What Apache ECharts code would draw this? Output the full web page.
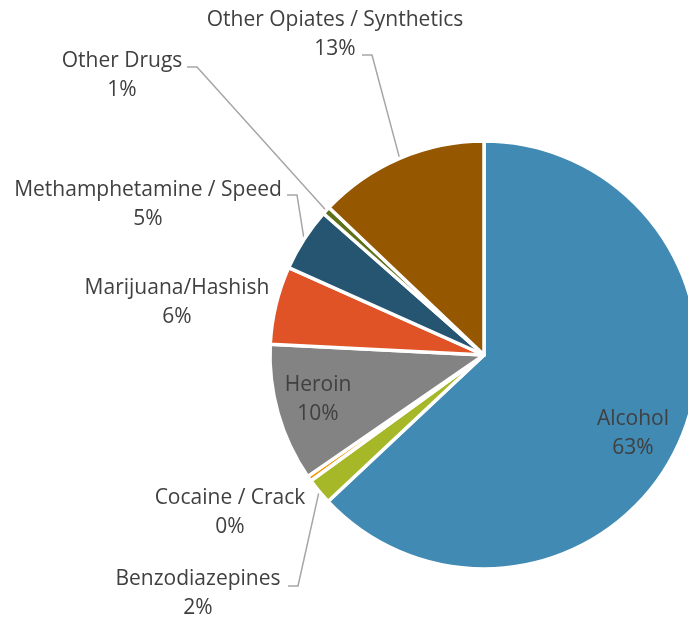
<!DOCTYPE html>
<html>
<head>
<meta charset="utf-8">
<script src="https://cdn.jsdelivr.net/npm/echarts@6/dist/echarts.min.js"></script>
<style>
html,body{margin:0;padding:0;background:#fff;}
#chart{width:688px;height:624px;}
</style>
</head>
<body>
<div id="chart"></div>
<script>
// Data (percent shares)
var categories = ['Alcohol', 'Benzodiazepines', 'Cocaine / Crack', 'Heroin', 'Marijuana/Hashish', 'Methamphetamine / Speed', 'Other Drugs', 'Other Opiates / Synthetics'];
var shares = [63.0, 2.0, 0.4, 10.4, 5.9, 4.8, 0.6, 12.9];
var colors = ['#418AB3', '#A6B727', '#F69200', '#838383', '#DF5327', '#255570', '#5E7018', '#955700'];

// Label placement (layout only)
var labelCenters = [[633, 434], [198, 594], [230, 513], [318, 400], [177, 303], [148, 205], [122, 76], [335, 35]];
var leaderStart = [null, [288, 586], null, null, null, [287, 195], [187, 67], [362, 55]];
var leaderLen = 10;

var chart = echarts.init(document.getElementById('chart'), null, {renderer: 'canvas'});

var data = categories.map(function (c, i) {
  var hasLine = !!leaderStart[i];
  return {
    name: c,
    value: shares[i],
    itemStyle: {color: colors[i]},
    label: {position: (i === 0 || i === 3) ? 'inside' : 'outside'},
    labelLine: {show: hasLine}
  };
});

chart.setOption({
  animation: false,
  series: [{
    type: 'pie',
    center: [484, 355],
    radius: 214,
    startAngle: 90,
    clockwise: true,
    avoidLabelOverlap: false,
    itemStyle: {borderColor: '#ffffff', borderWidth: 3.5},
    label: {
      show: true,
      fontFamily: 'Open Sans',
      fontSize: 21,
      lineHeight: 29,
      color: '#404040',
      overflow: 'none',
      formatter: function (p) { return p.name + '\n' + Math.round(p.percent) + '%'; }
    },
    labelLine: {
      show: true,
      length: 10,
      length2: 10,
      lineStyle: {color: '#A6A6A6', width: 1.5}
    },
    labelLayout: function (params) {
      var i = params.dataIndex;
      var res = {x: labelCenters[i][0], y: labelCenters[i][1], align: 'center', verticalAlign: 'middle'};
      if (leaderStart[i] && params.labelLinePoints) {
        var a = params.labelLinePoints[0];
        var s = leaderStart[i];
        res.labelLinePoints = [[a[0], a[1]], [s[0] + leaderLen, s[1]], [s[0], s[1]]];
      }
      return res;
    },
    data: data
  }]
});
</script>
</body>
</html>
